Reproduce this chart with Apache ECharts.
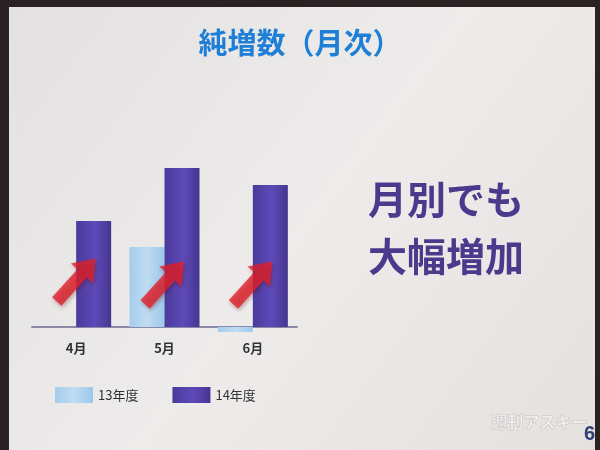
<!DOCTYPE html>
<html><head><meta charset="utf-8">
<script src="https://cdn.jsdelivr.net/npm/echarts@6/dist/echarts.min.js"></script>
<style>html,body{margin:0;padding:0;background:#2b2224;}#c{width:600px;height:450px;}</style>
</head><body><div id="c"></div>
<script>
const categories = ['4月', '5月', '6月'];
const fy13 = [0, 80, -5];
const fy14 = [106, 159, 142];
const arrowLevel = [47, 44, 44];
const seriesNames = ['13年度', '14年度'];

const chart = echarts.init(document.getElementById('c'));
const arrowPath = 'path://M0,7 L30,7 L30,0 L46,12 L30,24 L30,17 L0,17 Z';
chart.setOption({
  backgroundColor: 'transparent',
  animation: false,
  graphic: [
    {type: 'rect', z: -10, shape: {x: 9, y: 7, width: 586, height: 445},
     style: {fill: new echarts.graphic.LinearGradient(0, 0, 1, 1, [
       {offset: 0, color: '#e3e1e1'}, {offset: 0.5, color: '#eeeceb'}, {offset: 1, color: '#e4e1df'}])}},
    {type: 'text', left: 'center', top: 28, style: {text: '純増数（月次）', fill: '#1f7fd6',
      font: 'bold 29px "Noto Sans CJK JP"'}},
    {type: 'text', left: 368, top: 171, style: {text: '月別でも\n大幅増加', fill: '#4a3a8c',
      font: 'bold 39px "Noto Sans CJK JP"', lineHeight: 57, textAlign: 'left'}},
    {type: 'text', left: 491, top: 413, style: {text: '週刊アスキー', fill: 'rgba(255,255,255,0.55)',
      stroke: 'rgba(180,175,175,0.6)', lineWidth: 1, font: 'bold 16px "Noto Sans CJK JP"'}},
    {type: 'text', left: 584, top: 424, style: {text: '6', fill: '#2e3f7a', font: 'bold 20px "Liberation Sans"'}}
  ],
  grid: {left: 32, width: 265, top: 127, height: 208},
  legend: {
    data: seriesNames, left: 50, top: 382, itemWidth: 38, itemHeight: 16, itemGap: 34,
    icon: 'rect', textStyle: {fontSize: 13, color: '#333', fontFamily: '"Noto Sans CJK JP"'}
  },
  xAxis: {
    type: 'category', data: categories,
    axisLine: {lineStyle: {color: '#8a8aa8', width: 2}},
    axisTick: {show: false},
    axisLabel: {color: '#333', fontWeight: 'bold', fontSize: 13, margin: 7, fontFamily: '"Noto Sans CJK JP"'}
  },
  yAxis: {type: 'value', min: -8, max: 200, show: false, splitLine: {show: false}},
  series: [
    {name: seriesNames[0], type: 'bar', data: fy13, barWidth: 35, barGap: '0%',
     itemStyle: {color: new echarts.graphic.LinearGradient(0, 0, 1, 0, [
       {offset: 0, color: '#a4cdeb'}, {offset: 0.5, color: '#bfdcf2'}, {offset: 1, color: '#9cc8ea'}])}},
    {name: seriesNames[1], type: 'bar', data: fy14, barWidth: 35,
     itemStyle: {color: new echarts.graphic.LinearGradient(0, 0, 1, 0, [
       {offset: 0, color: '#4b3a9c'}, {offset: 0.55, color: '#5e4ab8'}, {offset: 1, color: '#45358f'}])}},
    {name: 'arrows', type: 'scatter', data: arrowLevel.map((v, i) => [i, v]), z: 5,
     symbol: arrowPath, symbolSize: [58, 30], symbolRotate: 48,
     itemStyle: {color: '#e0202a', shadowBlur: 4, shadowColor: 'rgba(80,0,0,0.4)', shadowOffsetX: 1, shadowOffsetY: 2}}
  ]
});
</script></body></html>
